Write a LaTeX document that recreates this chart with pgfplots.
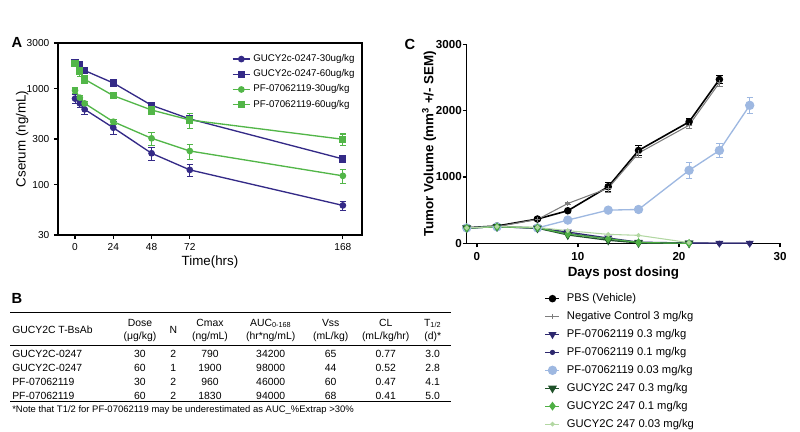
\documentclass[border=0pt]{standalone}
\usepackage{fontspec}
\setmainfont{Liberation Sans}
\usepackage{pgfplots}
\pgfplotsset{compat=1.18}
\definecolor{pkblue}{RGB}{52,42,135}
\definecolor{pkgreen}{RGB}{82,182,72}
\definecolor{navy}{RGB}{45,40,110}
\definecolor{ltblue}{RGB}{158,184,225}
\definecolor{dkgreen}{RGB}{32,82,42}
\definecolor{midgreen}{RGB}{78,175,68}
\definecolor{ltgreen}{RGB}{178,215,162}
\definecolor{ncgray}{RGB}{125,125,125}

\pgfplotsset{
  eb/.style={error bars/.cd, y dir=both, y explicit,
    error bar style={line width=0.8pt},
    error mark options={rotate=90, mark size=2.4pt, line width=0.8pt}},
}

\begin{document}
\begin{tikzpicture}[x=0.75pt,y=-0.75pt]
\path (0,0) rectangle (800,432);
\coordinate (Aorig) at (58,235);
\coordinate (Corig) at (466.7,243.3);

% panel letters
\node[font=\bfseries\fontsize{11}{12}\selectfont] at (17,42) {A};
\node[font=\bfseries\fontsize{11}{12}\selectfont] at (17,298) {B};
\node[font=\bfseries\fontsize{11}{12}\selectfont] at (410,44) {C};

% ---------- A: serum concentration ----------
\begin{axis}[
  at={(Aorig)}, anchor=south west,
  width=228pt, height=144pt, scale only axis,
  xmin=-10.7, xmax=180, ymode=log, ymin=30, ymax=3000,
  xtick={0,24,48,72,168}, ytick={30,100,300,1000,3000},
  yticklabels={30,100,300,1000,3000},
  yminorticks=false,
  tick align=outside, tick pos=left, major tick length=3pt,
  axis line style={line width=0.9pt},
  every tick/.style={line width=0.9pt, black},
  tick label style={font=\fontsize{7.6}{9}\selectfont},
  /pgf/number format/assume math mode=true,
  xlabel={Time(hrs)}, ylabel={Cserum (ng/mL)},
  every axis x label/.style={at={(rel axis cs:0.5,-0.14)}, anchor=center},
  every axis y label/.style={at={(rel axis cs:-0.118,0.5)}, rotate=90, anchor=center},
  label style={font=\fontsize{10}{12}\selectfont},
  legend style={draw=none, fill=none, at={(0.985,0.955)}, anchor=north east,
    font=\fontsize{7.3}{8.5}\selectfont, row sep=0.6pt, inner sep=0pt},
  legend cell align=left,
  legend image code/.code={\draw[mark repeat=2,mark phase=2,#1] plot coordinates {(0pt,0pt) (6.5pt,0pt) (13pt,0pt)};},
]
\addplot[pkblue, line width=1pt, mark=*, mark size=2pt, mark options={fill=pkblue}, eb] coordinates {
  (0,790) +- (0,80) (3,705) +- (0,60) (6,611) +- (0,70) (24,393) +- (0,60)
  (48,213) +- (0,33) (72,143) +- (0,20) (168,61) +- (0,6.5)};
\addplot[pkblue, line width=1pt, mark=square*, mark size=2.2pt, mark options={fill=pkblue}, eb] coordinates {
  (0,1890) +- (0,40) (3,1800) +- (0,40) (6,1550) +- (0,40) (24,1150) +- (0,30)
  (48,673) +- (0,40) (72,485) +- (0,30) (168,186) +- (0,8)};
\addplot[pkgreen, line width=1pt, mark=*, mark size=2pt, mark options={fill=pkgreen}, eb] coordinates {
  (0,960) +- (0,60) (3,808) +- (0,40) (6,705) +- (0,40) (24,454) +- (0,30)
  (48,305) +- (0,49) (72,225) +- (0,40) (168,124) +- (0,20)};
\addplot[pkgreen, line width=1pt, mark=square*, mark size=2.2pt, mark options={fill=pkgreen}, eb] coordinates {
  (0,1830) +- (0,60) (3,1533) +- (0,200) (6,1257) +- (0,120) (24,848) +- (0,40)
  (48,601) +- (0,60) (72,473) +- (0,85) (168,298) +- (0,40)};
\legend{GUCY2c-0247-30ug/kg, GUCY2c-0247-60ug/kg, PF-07062119-30ug/kg, PF-07062119-60ug/kg}
\end{axis}

% ---------- B: PK table ----------
\begin{scope}[font=\fontsize{7.8}{9}\selectfont, every node/.style={inner sep=0pt, anchor=base}]
\draw[line width=0.8pt] (10,312.3) -- (451,312.3);
\draw[line width=0.6pt] (10,345.3) -- (451,345.3);
\draw[line width=1.1pt] (10,401.5) -- (451,401.5);
\node[anchor=base west] at (12,333.7) {GUCY2C T-BsAb};
\node at (140,326) {Dose};           \node at (140,339.4) {(μg/kg)};
\node at (173.3,333.7) {N};
\node at (210,326) {Cmax};           \node at (210,339.4) {(ng/mL)};
\node at (270.7,326) {AUC\textsubscript{0-168}}; \node at (270.7,339.4) {(hr*ng/mL)};
\node at (330.7,326) {Vss};          \node at (330.7,339.4) {(mL/kg)};
\node at (385.7,326) {CL};           \node at (385.7,339.4) {(mL/kg/hr)};
\node at (432.7,326) {T\textsubscript{1/2}}; \node at (432.7,339.4) {(d)*};
\foreach \yy/\nm/\dd/\nn/\cm/\au/\vs/\cl/\th in {
  357/GUCY2C-0247/30/2/790/34200/65/0.77/3.0,
  371/GUCY2C-0247/60/1/1900/98000/44/0.52/2.8,
  385.7/PF-07062119/30/2/960/46000/60/0.47/4.1,
  399.7/PF-07062119/60/2/1830/94000/68/0.41/5.0}{
  \node[anchor=base west] at (12,\yy) {\nm};
  \node at (140,\yy) {\dd};
  \node at (173.3,\yy) {\nn};
  \node at (210,\yy) {\cm};
  \node at (270.7,\yy) {\au};
  \node at (330.7,\yy) {\vs};
  \node at (385.7,\yy) {\cl};
  \node at (432.7,\yy) {\th};
}
\node[anchor=base west, font=\fontsize{7.1}{8}\selectfont] at (12,412.4)
  {*Note that T1/2 for PF-07062119 may be underestimated as AUC\_\%Extrap >30\%};
\end{scope}

% ---------- C: tumor volume ----------
\begin{axis}[
  at={(Corig)}, anchor=south west,
  width=235pt, height=149.25pt, scale only axis,
  xmin=-1, xmax=30, ymin=0, ymax=3000,
  axis x line*=bottom, axis y line*=left,
  axis line style={line width=1.1pt, -},
  xtick={0,10,20,30}, ytick={0,1000,2000,3000},
  tick align=outside, major tick length=3pt,
  every tick/.style={line width=1.1pt, black},
  /pgf/number format/1000 sep={},
  /pgf/number format/assume math mode=true,
  tick label style={font=\bfseries\fontsize{8.7}{10}\selectfont},
  yticklabel style={xshift=2.8pt},
  xlabel={Days post dosing}, ylabel={Tumor Volume (mm\textsuperscript{3} +/- SEM)},
  every axis x label/.style={at={(rel axis cs:0.5,-0.152)}, anchor=center},
  every axis y label/.style={at={(rel axis cs:-0.12,0.5)}, rotate=90, anchor=center},
  label style={font=\bfseries\fontsize{10}{12}\selectfont},
  legend style={draw=none, fill=none, at={(0.248,-0.238)}, anchor=north west,
    font=\fontsize{8.4}{10}\selectfont, row sep=1.85pt, inner sep=0pt,
    /tikz/every odd column/.append style={column sep=3pt}},
  legend cell align=left,
  legend image code/.code={\draw[mark repeat=2,mark phase=2,#1] plot coordinates {(0pt,0pt) (5.25pt,0pt) (10.5pt,0pt)};},
]
\addplot[black, line width=1.2pt, mark=*, mark size=2.2pt, mark options={fill=black}, eb] coordinates {
  (-1,235) +- (0,15) (2,261) +- (0,15) (6,366) +- (0,15) (9,491) +- (0,20)
  (13,853) +- (0,70) (16,1400) +- (0,75) (21,1830) +- (0,50) (24,2470) +- (0,55)};
\addplot[ncgray, line width=0.8pt, mark=+, mark size=2pt, eb] coordinates {
  (-1,230) +- (0,15) (2,250) +- (0,15) (6,360) +- (0,15) (9,600) +- (0,20)
  (13,830) +- (0,60) (16,1360) +- (0,60) (21,1780) +- (0,50) (24,2420) +- (0,50)};
\addplot[navy, line width=0.9pt, mark=triangle*, mark size=2.6pt, mark options={rotate=180, fill=navy}] coordinates {
  (-1,230) (2,255) (6,232) (9,170) (13,80) (16,18) (21,5) (24,2) (27,2)};
\addplot[navy, line width=0.9pt, mark=*, mark size=1.5pt, mark options={fill=navy}] coordinates {
  (-1,228) (2,250) (6,225) (9,150) (13,65) (16,10) (21,2) (24,0) (27,0)};
\addplot[ltblue, line width=1pt, mark=*, mark size=3pt, mark options={fill=ltblue}, eb] coordinates {
  (-1,232) +- (0,15) (2,248) +- (0,15) (6,232) +- (0,15) (9,350) +- (0,20)
  (13,500) +- (0,40) (16,510) +- (0,40) (21,1100) +- (0,120) (24,1400) +- (0,100) (27,2080) +- (0,120)};
\addplot[dkgreen, line width=0.9pt, mark=triangle*, mark size=3pt, mark options={rotate=180, fill=dkgreen}] coordinates {
  (-1,230) (2,250) (6,228) (9,125) (13,45) (16,5) (21,0)};
\addplot[midgreen, line width=0.9pt, mark=diamond*, mark size=2.6pt, mark options={fill=midgreen}] coordinates {
  (-1,230) (2,248) (6,235) (9,140) (13,70) (16,12) (21,0)};
\addplot[ltgreen, line width=0.8pt, mark=*, mark size=1.3pt, mark options={fill=ltgreen}] coordinates {
  (-1,232) (2,252) (6,240) (9,190) (13,135) (16,120) (21,10)};
\legend{PBS (Vehicle), Negative Control 3 mg/kg, PF-07062119 0.3 mg/kg, PF-07062119 0.1 mg/kg,
  PF-07062119 0.03 mg/kg, GUCY2C 247 0.3 mg/kg, GUCY2C 247 0.1 mg/kg, GUCY2C 247 0.03 mg/kg}
\end{axis}
\end{tikzpicture}
\end{document}
